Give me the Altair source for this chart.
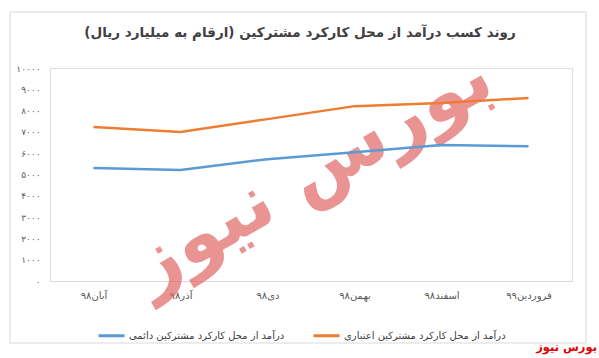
import altair as alt
import pandas as pd

months = ["آبان۹۸", "آذر۹۸", "دی۹۸", "بهمن۹۸", "اسفند۹۸", "فروردین۹۹"]
series_permanent = "درآمد از محل کارکرد مشترکین دائمی"
series_credit = "درآمد از محل کارکرد مشترکین اعتباری"
values_permanent = [5300, 5210, 5720, 6050, 6380, 6330]
values_credit = [7230, 7000, 7600, 8210, 8360, 8590]
y_ticks = [0, 1000, 2000, 3000, 4000, 5000, 6000, 7000, 8000, 9000, 10000]
y_tick_labels = ["٠", "۱۰۰۰", "۲۰۰۰", "۳۰۰۰", "۴۰۰۰", "۵۰۰۰", "۶۰۰۰", "۷۰۰۰", "۸۰۰۰", "۹۰۰۰", "۱۰۰۰۰"]
title_text = "روند کسب درآمد از محل کارکرد مشترکین (ارقام به میلیارد ریال)"
brand_text = "بورس نیوز"

rows = []
for m, v in zip(months, values_permanent):
    rows.append({"month": m, "series": series_permanent, "value": v})
for m, v in zip(months, values_credit):
    rows.append({"month": m, "series": series_credit, "value": v})
df = pd.DataFrame(rows)

label_map = "{" + ", ".join(f"'{t}': '{l}'" for t, l in zip(y_ticks, y_tick_labels)) + "}"
label_expr = label_map + "[datum.value + '']"

FONT = "DejaVu Sans"

lines = alt.Chart(df).mark_line(strokeWidth=2.5).encode(
    x=alt.X("month:N", sort=months, title=None,
            scale=alt.Scale(type="point", padding=0.5),
            axis=alt.Axis(labelAngle=0, ticks=False, domainColor="#d9d9d9",
                          labelColor="#595959", labelFontSize=10, labelPadding=9,
                          labelFont=FONT, grid=False)),
    y=alt.Y("value:Q", title=None,
            scale=alt.Scale(domain=[0, 10000], nice=False),
            axis=alt.Axis(values=y_ticks, labelExpr=label_expr, ticks=False, domain=False,
                          grid=False, labelColor="#595959", labelFontSize=9,
                          labelPadding=10, labelFont=FONT)),
    color=alt.Color("series:N",
                    scale=alt.Scale(domain=[series_permanent, series_credit],
                                    range=["#5b9bd5", "#ed7d31"]),
                    legend=alt.Legend(title=None, orient="none", direction="horizontal",
                                      legendX=47, legendY=253, symbolType="stroke",
                                      symbolSize=676, symbolStrokeWidth=3,
                                      labelFontSize=10, labelColor="#404040",
                                      labelFont=FONT, columnPadding=22, labelOffset=3,
                                      labelLimit=400)),
)

dummy = pd.DataFrame({"a": [0]})

watermark = alt.Chart(dummy).mark_text(
    text=brand_text, fontSize=76, fontWeight="bold", color="#e06666",
    opacity=0.7, angle=330, font=FONT, align="center", baseline="middle"
).encode(x=alt.value(262), y=alt.value(104))

border = alt.Chart(dummy).mark_rect(fill=None, stroke="#d9d9d9", strokeWidth=1).encode(
    x=alt.value(-40), x2=alt.value(536), y=alt.value(-56), y2=alt.value(275)
)

title = alt.Chart(dummy).mark_text(
    text=title_text, fontSize=13.5, fontWeight="bold", color="#404040",
    align="center", baseline="middle", font=FONT
).encode(x=alt.value(250), y=alt.value(-35))

brand = alt.Chart(dummy).mark_text(
    text=brand_text, fontSize=11.5, fontWeight="bold", color="#e00000",
    align="right", baseline="middle", font=FONT
).encode(x=alt.value(547), y=alt.value(280))

chart = alt.layer(border, title, watermark, lines, brand).properties(
    width=522, height=213,
    padding={"left": 50, "top": 68, "right": 27, "bottom": 77},
    autosize=alt.AutoSizeParams(type="none"),
).configure_view(stroke=None).configure(background="white")

chart.save("out.html", embed_options={"renderer": "svg", "actions": False})
